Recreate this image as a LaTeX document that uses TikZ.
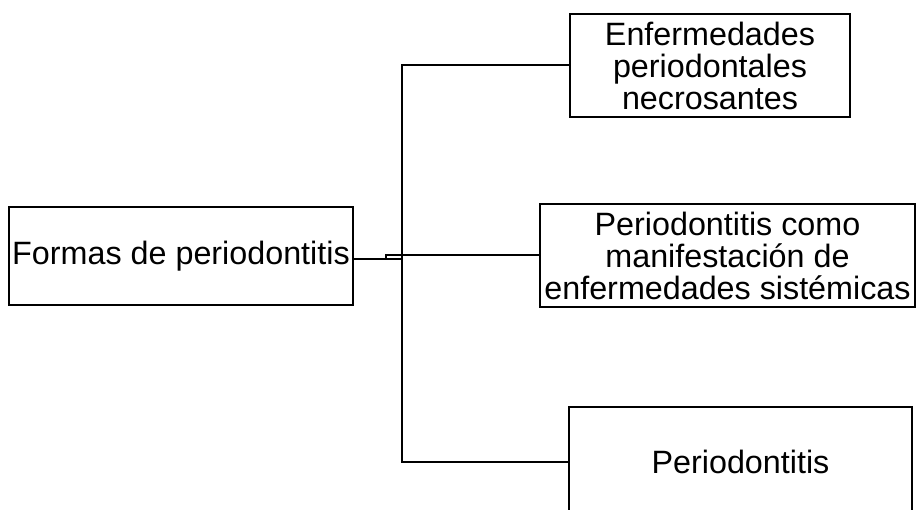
\documentclass[tikz,border=0pt]{standalone}
\usepackage{fontspec}
\setmainfont{Liberation Sans}
\usetikzlibrary{positioning}

\begin{document}
\begin{tikzpicture}[
  x=1pt, y=-1pt,
  every node/.style={font=\fontsize{32.3}{32}\selectfont},
  formbox/.style={draw,line width=2pt,align=center,inner sep=0pt},
  link/.style={draw,line width=2pt},
]
  \useasboundingbox (0,0) rectangle (919,510);
  \clip (0,0) rectangle (919,510);

  % Boxes
  \node[formbox,minimum width=344pt,minimum height=98pt] (formas) at (181,256)
    {Formas de periodontitis};
  \node[formbox,minimum width=280pt,minimum height=103pt] (necro) at (710,65.5)
    {Enfermedades\\periodontales\\necrosantes};
  \node[formbox,minimum width=375pt,minimum height=103pt] (sistem) at (727.5,255.5)
    {Periodontitis como\\manifestación de\\enfermedades sistémicas};
  \node[formbox,minimum width=343pt,minimum height=110pt] (perio) at (740.5,462)
    {Periodontitis};

  % Connectors
  \coordinate (trunk) at (402,259);
  \draw[link] ([yshift=-3pt]formas.east) -- (trunk);
  \draw[link] (trunk) |- (necro.west);
  \draw[link] (trunk) |- (perio.west);
  \draw[link] ([yshift=-3pt]formas.east) -- ++(32,0) |- (sistem.west);
\end{tikzpicture}
\end{document}
